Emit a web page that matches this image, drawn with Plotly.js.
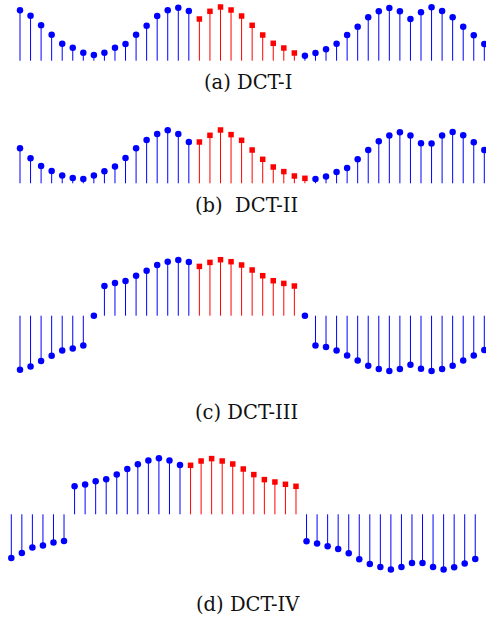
<!DOCTYPE html>
<html><head><meta charset="utf-8">
<script src="https://cdn.plot.ly/plotly-3.0.1.min.js"></script>
<style>html,body{margin:0;padding:0;background:#fff}#chart{width:486px;height:621px}</style>
</head><body><div id="chart"></div>
<script>
const panelTitles = ["(a) DCT-I", "(b)\u00a0\u00a0DCT-II", "(c) DCT-III", "(d) DCT-IV"];

// (a) DCT-I
const dct1Left  = [50.4, 45, 35.4, 26, 17, 13, 8, 5.7, 8, 13, 16.7, 26, 35, 44.7, 50.4, 53, 49.7];
const dct1Data  = [41.7, 49.4, 53.7, 50.7, 44.7, 35.4, 25.7, 17.4, 12.7, 7.7];
const dct1Right = [5, 7.7, 11.4, 17, 25.7, 34, 43.4, 49.4, 52.7, 49.4, 41.7, 48.4, 53.4, 49.7, 43.4, 34, 25.4, 16.7];

// (b) DCT-II
const dct2Left  = [35, 25, 17.3, 12.3, 7.7, 5.3, 4.3, 7.7, 12, 16.7, 25.3, 35, 43.3, 49.3, 53, 49.3, 41.3];
const dct2Data  = [41.3, 48, 53.3, 48.7, 43, 33.3, 24, 16.3, 11.7, 7.3, 5];
const dct2Right = [4.3, 6.7, 11.3, 15.3, 24, 33.3, 42, 47.7, 51, 47.7, 40, 39.7, 47.7, 51.3, 48, 41, 33.3];

// (c) DCT-III
const dct3Left  = [-54, -50.7, -45.3, -40, -34.7, -32.7, -29.7, 0, 29.7, 32.7, 34.7, 40, 45, 50.7, 54, 55.7, 53.7];
const dct3Data  = [49.3, 53.3, 56, 54, 50.7, 45.7, 40, 35, 32.3, 29.7];
const dct3Right = [0, -29.7, -31.3, -34.7, -39.7, -44.7, -50, -53.3, -55.3, -53.3, -49, -53, -55.3, -53.3, -50, -44.7, -39.7, -34.3];

// (d) DCT-IV
const dct4Left  = [-43.7, -38.7, -33.3, -31.3, -28.3, -26.7, 28, 29.7, 33, 35, 39.7, 45.3, 50, 53.7, 56, 53.7, 49.3];
const dct4Data  = [49, 53.3, 55.7, 53.3, 50.3, 45.3, 39.7, 34.7, 32.3, 30, 28];
const dct4Right = [-27, -29.3, -32, -34.7, -39, -45, -49.7, -52.7, -55.3, -52.7, -48.7, -48.7, -52.7, -55.3, -53, -49.3, -44.7];

const BLUE = '#0000ff', RED = '#ff0000';

function stems(xs, ys, color, symbol, size, xa, ya) {
  return {
    type: 'scatter', mode: 'markers', x: xs, y: ys, xaxis: xa, yaxis: ya,
    cliponaxis: false, hoverinfo: 'skip',
    marker: {color: color, symbol: symbol, size: size, line: {width: 0}},
    error_y: {type: 'data', symmetric: false, visible: true,
      array: ys.map(v => v < 0 ? -v : 0),
      arrayminus: ys.map(v => v > 0 ? v : 0),
      color: color, thickness: 1, width: 0}
  };
}

function panel(left, data, right, xa, ya) {
  const n0 = left.length, n1 = data.length;
  const xl = left.map((_, i) => i);
  const xd = data.map((_, i) => n0 + i);
  const xr = right.map((_, i) => n0 + n1 + i);
  return [
    stems(xl, left, BLUE, 'circle', 6.5, xa, ya),
    stems(xr, right, BLUE, 'circle', 6.5, xa, ya),
    stems(xd, data, RED, 'square', 5.5, xa, ya)
  ];
}

const traces = [].concat(
  panel(dct1Left, dct1Data, dct1Right, 'x', 'y'),
  panel(dct2Left, dct2Data, dct2Right, 'x2', 'y2'),
  panel(dct3Left, dct3Data, dct3Right, 'x3', 'y3'),
  panel(dct4Left, dct4Data, dct4Right, 'x4', 'y4')
);

const H = 621;
function yax(topPx, botPx, range, anchor) {
  return {domain: [(H - botPx) / H, (H - topPx) / H], range: range, visible: false,
    fixedrange: true, anchor: anchor};
}
function xax(range, anchor) {
  return {domain: [0, 1], range: range, visible: false, fixedrange: true, anchor: anchor};
}

const tfont = {family: 'DejaVu Serif', size: 19.5, color: '#111'};
const titleY = [82, 205.5, 412, 604];
const titleX = [247.5, 247, 246.7, 248];

const layout = {
  width: 486, height: 621, margin: {l: 0, r: 0, t: 0, b: 0},
  paper_bgcolor: '#fff', plot_bgcolor: '#fff', showlegend: false,
  xaxis: xax([-1.895, 44.16], 'y'),
  xaxis2: xax([-1.895, 44.16], 'y2'),
  xaxis3: xax([-1.895, 44.16], 'y3'),
  xaxis4: xax([-1.072, 45.02], 'y4'),
  yaxis: yax(0, 70, [-9.3, 60.7], 'x'),
  yaxis2: yax(110, 190, [-6.7, 73.3], 'x2'),
  yaxis3: yax(240, 390, [-74.3, 75.7], 'x3'),
  yaxis4: yax(440, 590, [-75.7, 74.3], 'x4'),
  annotations: panelTitles.map((t, i) => ({
    text: t, xref: 'paper', yref: 'paper', x: titleX[i] / 486, y: (H - titleY[i]) / H,
    xanchor: 'center', yanchor: 'middle', showarrow: false, font: tfont
  }))
};

Plotly.newPlot('chart', traces, layout, {staticPlot: true, displayModeBar: false});
</script>
</body></html>
